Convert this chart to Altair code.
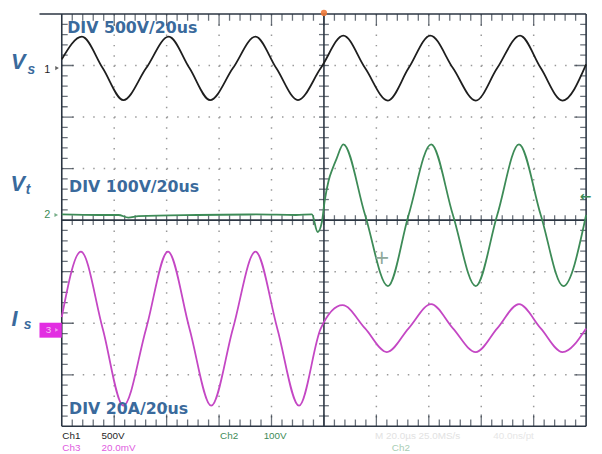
import altair as alt
import pandas as pd
import numpy as np

# ---- data (time in microseconds, 20 us/div; vertical in screen divisions, 0 = centre) ----
ch1_t = [0, 7.7, 15.6, 23.5, 32.2, 40.8, 48.7, 56.6, 65.3, 73.9, 81.8, 90.1, 98.8,
         107.4, 115.7, 124.4, 132.3, 140.6, 149.2, 157.9, 166.1, 174.8, 182.7, 191.0, 200]
ch1_v = [3.12, 3.56, 2.95, 2.33, 2.95, 3.56, 2.95, 2.33, 2.95, 3.56, 2.95, 2.33, 2.95,
         3.58, 2.95, 2.32, 2.95, 3.58, 2.95, 2.32, 2.95, 3.58, 2.95, 2.32, 3.02]

ch2_t = [0, 14.1, 21.6, 25.4, 29.2, 51.7, 74.3, 89.3, 95.4, 97.6, 99.2, 100.3, 101.8,
         103.3, 104.8, 107.4, 115.7, 124.4, 132.3, 140.9, 149.2, 157.9, 166.1, 174.4,
         182.7, 191.3, 200]
ch2_v = [0.11, 0.10, 0.10, 0.05, 0.08, 0.10, 0.11, 0.10, 0.11, -0.23, -0.04, 0.38, 0.77,
         1.0, 1.19, 1.47, 0.10, -1.28, 0.10, 1.47, 0.10, -1.28, 0.10, 1.47,
         0.10, -1.28, 0.10]

ch3_t = [0, 7.3, 15.6, 23.5, 32.2, 40.5, 48.7, 57.0, 65.3, 73.9, 82.2, 90.5, 98.8,
         107.1, 115.7, 124.0, 132.3, 140.9, 149.2, 157.9, 166.1, 174.4, 182.7, 191.0, 200]
ch3_v = [-1.88, -0.61, -2.1, -3.6, -2.1, -0.61, -2.1, -3.6, -2.1, -0.61, -2.1, -3.6, -2.1,
         -1.65, -2.1, -2.56, -2.1, -1.63, -2.1, -2.56, -2.1, -1.63, -2.1, -2.56, -2.1]

div_labels = ["DIV 500V/20us", "DIV 100V/20us", "DIV 20A/20us"]

# ---- styling ----
W, H = 531.5, 418
BLUE = "#3a6a9c"
FRAME = "#2b3542"
C1, C2, C3 = "#1e1e1e", "#3d8b57", "#c447c4"

xs = alt.Scale(domain=[0, 200], nice=False, zero=False)
ys = alt.Scale(domain=[-4, 4], nice=False, zero=False)


def X(f="t"):
    return alt.X(f"{f}:Q", scale=xs, axis=None)


def Y(f="v"):
    return alt.Y(f"{f}:Q", scale=ys, axis=None)


def df(**kw):
    return pd.DataFrame(kw)


layers = []

# dotted grid
vgrid = df(t=[20, 40, 60, 80, 120, 140, 160, 180], v=[4] * 8, v2=[-4] * 8)
layers.append(alt.Chart(vgrid).mark_rule(color="#999999", strokeWidth=1.5, strokeDash=[1.5, 8.95])
              .encode(x=X(), y=Y(), y2="v2:Q"))
hgrid = df(v=[3, 2, 1, -1, -2, -3], t=[0] * 6, t2=[200] * 6)
layers.append(alt.Chart(hgrid).mark_rule(color="#999999", strokeWidth=1.5, strokeDash=[1.5, 9.13])
              .encode(x=X(), x2="t2:Q", y=Y()))

# ticks
minor_x = [float(t) for t in np.arange(4, 200, 4) if t % 20 != 0]
major_x = [float(t) for t in range(20, 200, 20)]
all_x = [float(t) for t in np.arange(4, 200, 4)]
minor_y = [round(float(y), 1) for y in np.arange(-3.8, 4, 0.2) if abs(y - round(y)) > 1e-6]
major_y = [-3.0, -2.0, -1.0, 1.0, 2.0, 3.0]
all_y = [round(float(y), 1) for y in np.arange(-3.8, 4, 0.2)]

for yy in (4, -4):
    layers.append(alt.Chart(df(t=minor_x, v=[yy] * len(minor_x)))
                  .mark_tick(orient="vertical", size=14, thickness=1.3, color=FRAME, clip=True)
                  .encode(x=X(), y=Y()))
    layers.append(alt.Chart(df(t=major_x, v=[yy] * len(major_x)))
                  .mark_tick(orient="vertical", size=24, thickness=1.3, color=FRAME, clip=True)
                  .encode(x=X(), y=Y()))
for xx in (0, 200):
    layers.append(alt.Chart(df(t=[xx] * len(minor_y), v=minor_y))
                  .mark_tick(orient="horizontal", size=12, thickness=1.3, color=FRAME, clip=True)
                  .encode(x=X(), y=Y()))
    layers.append(alt.Chart(df(t=[xx] * len(major_y), v=major_y))
                  .mark_tick(orient="horizontal", size=24, thickness=1.3, color=FRAME, clip=True)
                  .encode(x=X(), y=Y()))
layers.append(alt.Chart(df(t=all_x, v=[0] * len(all_x)))
              .mark_tick(orient="vertical", size=10, thickness=1.3, color=FRAME)
              .encode(x=X(), y=Y()))
layers.append(alt.Chart(df(t=[100] * len(all_y), v=all_y))
              .mark_tick(orient="horizontal", size=10, thickness=1.3, color=FRAME)
              .encode(x=X(), y=Y()))

# frame and centre lines
frame_v = df(t=[0, 200, 100], v=[4, 4, 4], v2=[-4, -4, -4])
layers.append(alt.Chart(frame_v).mark_rule(color=FRAME, strokeWidth=1.6)
              .encode(x=X(), y=Y(), y2="v2:Q"))
frame_h = df(v=[4, -4, 0], t=[-8.5, 0, 0], t2=[200, 200, 200])
layers.append(alt.Chart(frame_h).mark_rule(color=FRAME, strokeWidth=1.6)
              .encode(x=X(), x2="t2:Q", y=Y()))

# traces
for t, v, c in ((ch2_t, ch2_v, C2), (ch1_t, ch1_v, C1), (ch3_t, ch3_v, C3)):
    layers.append(alt.Chart(df(t=t, v=v)).mark_line(color=c, strokeWidth=1.8, interpolate="monotone")
                  .encode(x=X(), y=Y()))

# trigger marker and cursor
layers.append(alt.Chart(df(t=[100], v=[4.02])).mark_point(filled=True, color="#f07a3a", size=40, opacity=0.9)
              .encode(x=X(), y=Y()))
layers.append(alt.Chart(df(t=[122.1], v=[-0.73], s=["+"])).mark_text(fontSize=20, color="#8fa89a", font="DejaVu Sans")
              .encode(x=X(), y=Y(), text="s:N"))

# channel ground markers
layers.append(alt.Chart(df(t=[-5.5, -5.5], v=[2.91, 0.10], s=["1", "2"], c=[C1, C2]))
              .mark_text(fontSize=11, font="Liberation Sans")
              .encode(x=X(), y=Y(), text="s:N", color=alt.Color("c:N", scale=None)))
layers.append(alt.Chart(df(t=[-1.8, -2.1], v=[2.95, 0.10], c=[C1, C2]))
              .mark_point(shape="triangle-right", filled=True, size=18)
              .encode(x=X(), y=Y(), color=alt.Color("c:N", scale=None)))
layers.append(alt.Chart(df(t=[-8.5], t2=[0], v=[-1.99], v2=[-2.28]))
              .mark_rect(color="#e22ee2").encode(x=X(), x2="t2:Q", y=Y(), y2="v2:Q"))
layers.append(alt.Chart(df(t=[-5.1], v=[-2.13], s=["3"]))
              .mark_text(fontSize=10, color="#f6c8f6", font="Liberation Sans")
              .encode(x=X(), y=Y(), text="s:N"))
layers.append(alt.Chart(df(t=[-1.9], v=[-2.13]))
              .mark_point(shape="triangle-right", filled=True, size=14, color="#f6c8f6")
              .encode(x=X(), y=Y()))
layers.append(alt.Chart(df(t=[199.8], v=[0.44], s=["←"]))
              .mark_text(fontSize=14, fontWeight="bold", color=C2, font="DejaVu Sans")
              .encode(x=X(), y=Y(), text="s:N"))

# DIV labels
layers.append(alt.Chart(df(t=[2.1, 2.8, 2.8], v=[3.72, 0.64, -3.67], s=div_labels))
              .mark_text(align="left", baseline="middle", fontSize=16, fontWeight="bold",
                         font="DejaVu Sans", color=BLUE)
              .encode(x=X(), y=Y(), text="s:N"))

# signal names
layers.append(alt.Chart(df(t=[-16.6, -16.8, -18.0], v=[3.06, 0.69, -1.91], s=["V", "V", "I"]))
              .mark_text(fontSize=22, fontStyle="italic", fontWeight="bold", font="Liberation Sans", color=BLUE)
              .encode(x=X(), y=Y(), text="s:N"))
layers.append(alt.Chart(df(t=[-11.6, -12.9, -13.0], v=[2.92, 0.58, -2.03], s=["s", "t", "s"]))
              .mark_text(fontSize=14, fontStyle="italic", fontWeight="bold", font="Liberation Sans", color=BLUE)
              .encode(x=X(), y=Y(), text="s:N"))

# status bar
status = df(t=[0.2, 15.2, 60.4, 77.0, 0.2, 15.2],
            v=[-4.19, -4.19, -4.19, -4.19, -4.42, -4.42],
            s=["Ch1", "500V", "Ch2", "100V", "Ch3", "20.0mV"],
            c=[C1, C1, C2, C2, "#e05ae0", "#e05ae0"])
layers.append(alt.Chart(status).mark_text(align="left", fontSize=10, font="Liberation Sans")
              .encode(x=X(), y=Y(), text="s:N", color=alt.Color("c:N", scale=None)))
faint = df(t=[119.5, 164.6, 125.9], v=[-4.19, -4.19, -4.42],
           s=["M 20.0µs 25.0MS/s", "40.0ns/pt", "Ch2"],
           c=["#e2e2e2", "#e6e6e6", "#a8cdb4"])
layers.append(alt.Chart(faint).mark_text(align="left", fontSize=10, font="Liberation Sans")
              .encode(x=X(), y=Y(), text="s:N", color=alt.Color("c:N", scale=None)))

chart = alt.layer(*layers).properties(
    width=W, height=H,
    autosize=alt.AutoSizeParams(type="none"),
    padding={"left": 54.5, "top": 3, "right": 8, "bottom": 25},
    background="white",
).configure_view(stroke=None)

chart.save("out.html", embed_options={"renderer": "svg", "actions": False})
